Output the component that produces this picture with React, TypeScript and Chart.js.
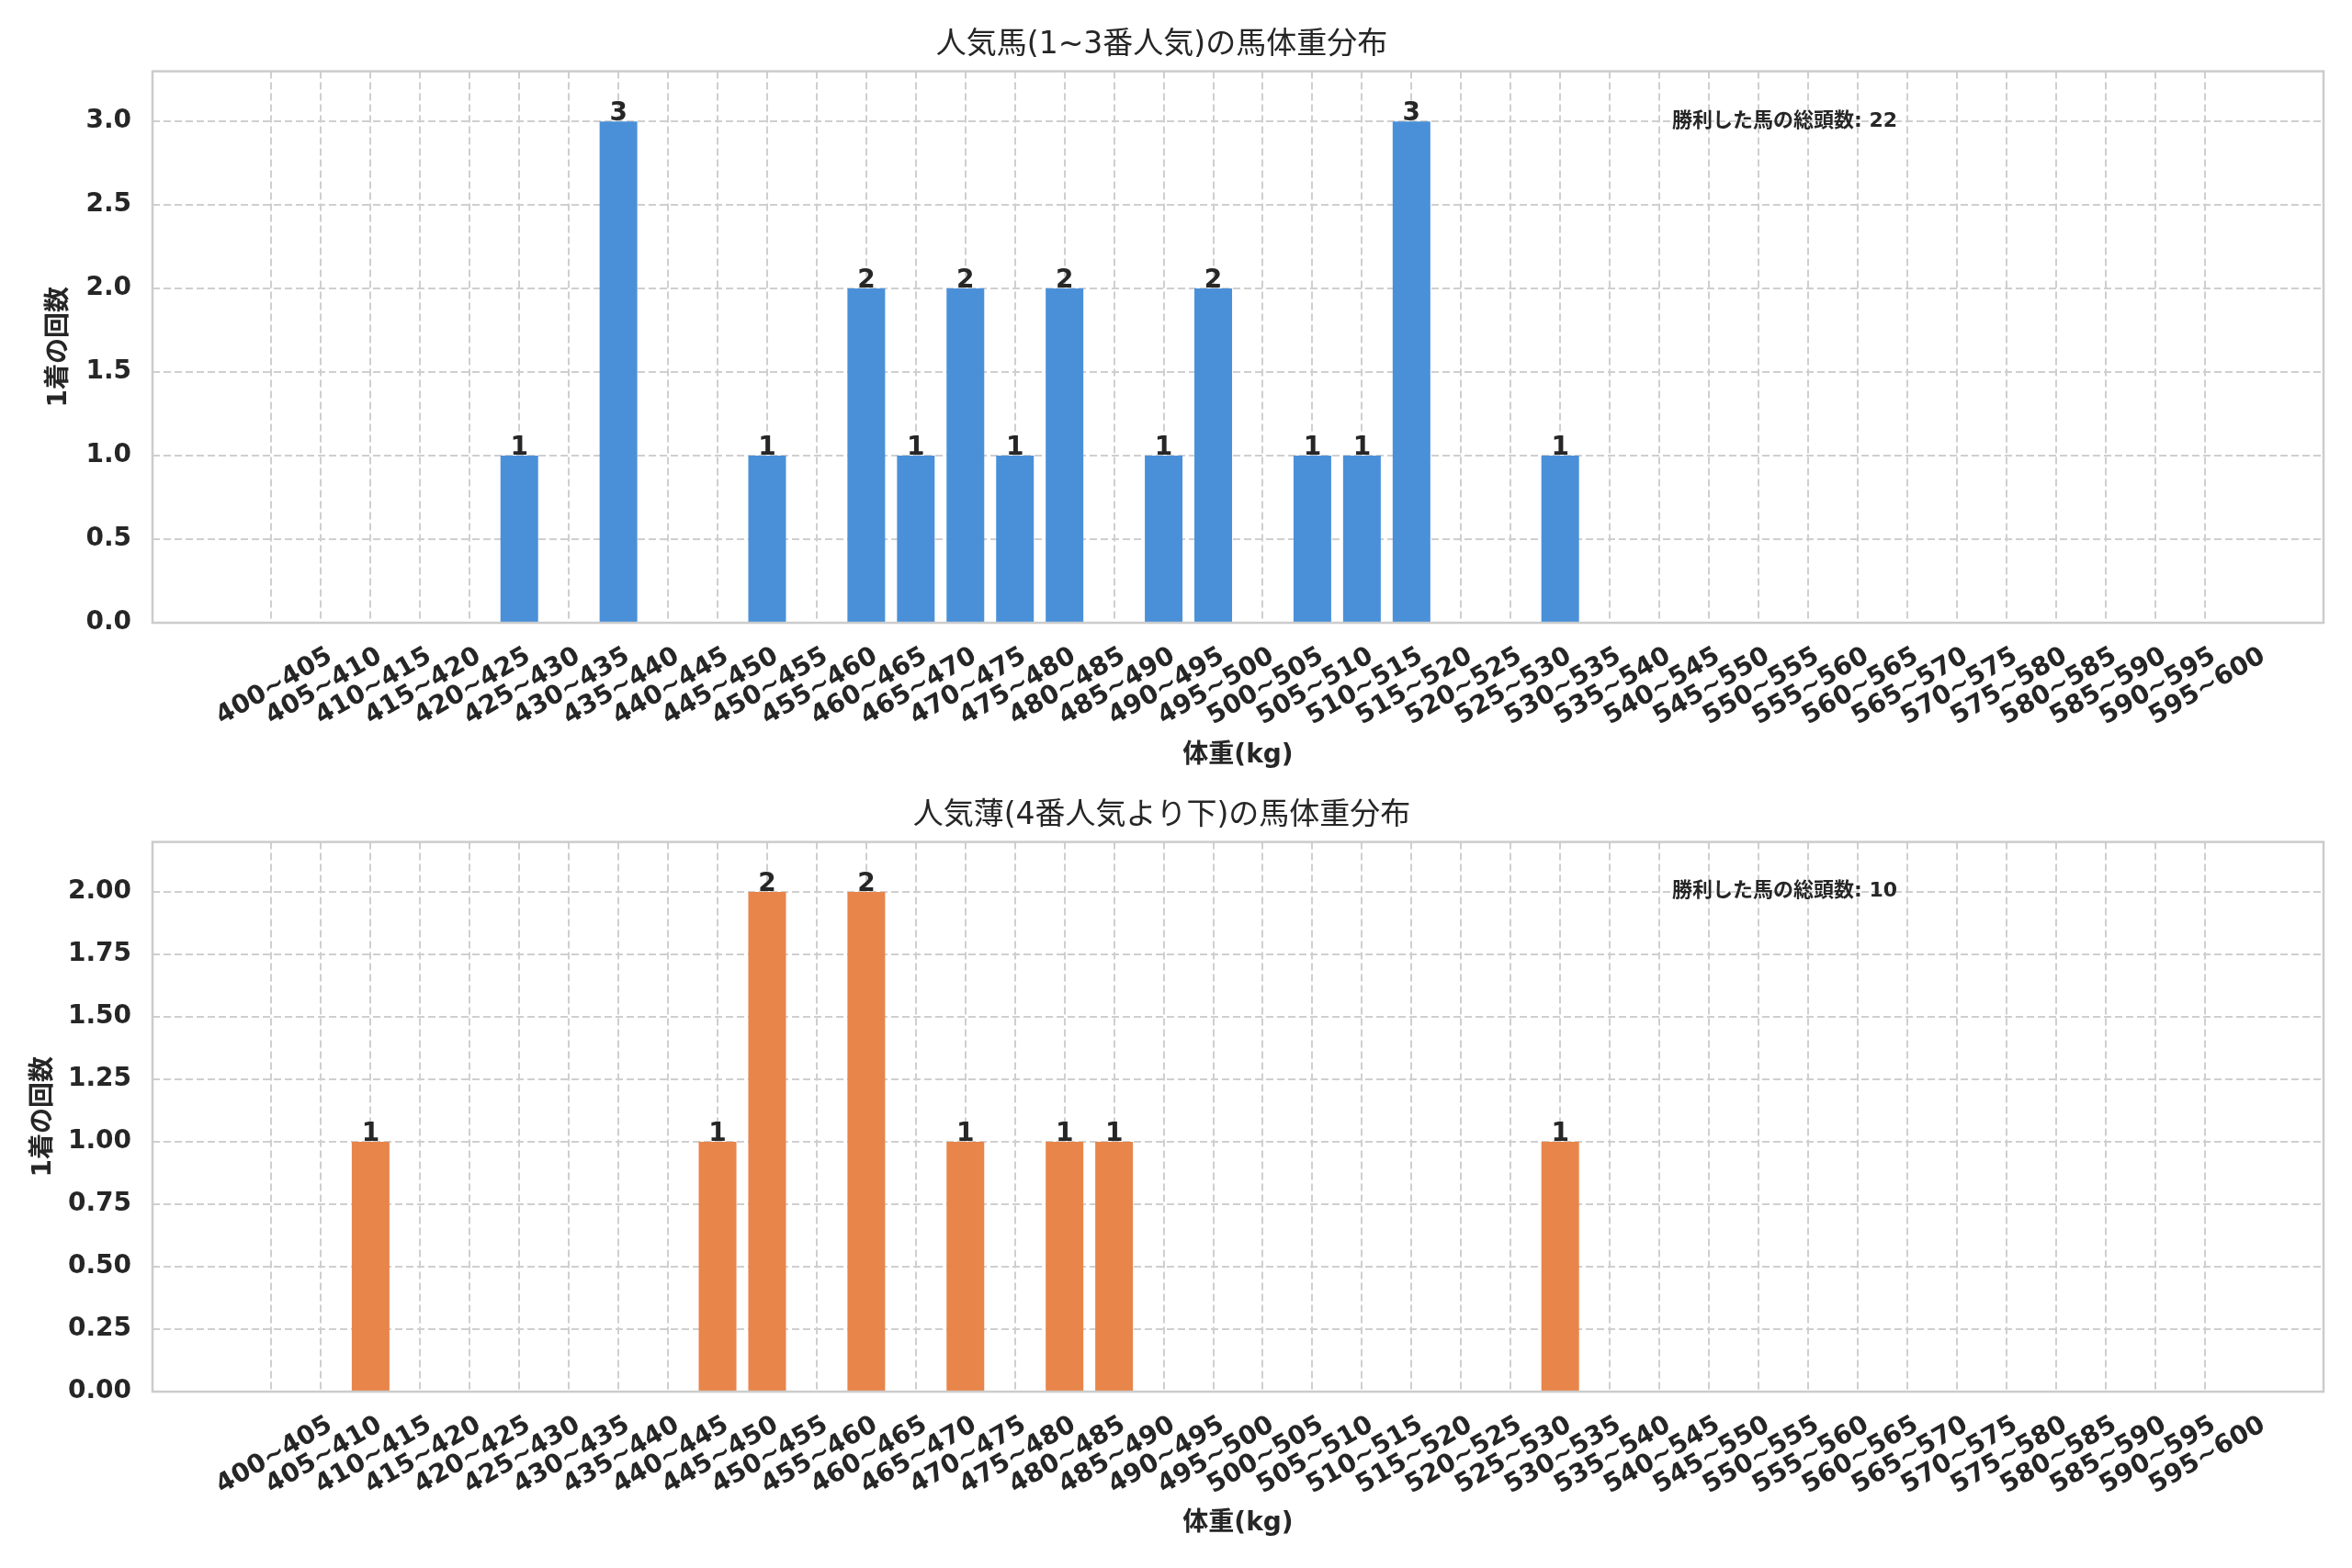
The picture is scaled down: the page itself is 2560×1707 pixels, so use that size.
import React, { useEffect, useRef } from "react";
import { Chart, registerables } from "chart.js";

Chart.register(...registerables);

const FONT = '"DejaVu Sans", "Noto Sans CJK JP", sans-serif';
const TEXT = "#262626";
const GRID = "#cfcfcf";

// 馬体重の区分 (5kg刻み)
const weightBins = [
  "400~405", "405~410", "410~415", "415~420", "420~425", "425~430", "430~435", "435~440",
  "440~445", "445~450", "450~455", "455~460", "460~465", "465~470", "470~475", "475~480",
  "480~485", "485~490", "490~495", "495~500", "500~505", "505~510", "510~515", "515~520",
  "520~525", "525~530", "530~535", "535~540", "540~545", "545~550", "550~555", "555~560",
  "560~565", "565~570", "570~575", "575~580", "580~585", "585~590", "590~595", "595~600",
];

// 1~3番人気の1着回数
const favWins = [
  0, 0, 0, 0, 0, 1, 0, 3, 0, 0, 1, 0, 2, 1, 2, 1, 2, 0, 1, 2,
  0, 1, 1, 3, 0, 0, 1, 0, 0, 0, 0, 0, 0, 0, 0, 0, 0, 0, 0, 0,
];

// 4番人気以下の1着回数
const longshotWins = [
  0, 0, 1, 0, 0, 0, 0, 0, 0, 1, 2, 0, 2, 0, 1, 0, 1, 1, 0, 0,
  0, 0, 0, 0, 0, 0, 1, 0, 0, 0, 0, 0, 0, 0, 0, 0, 0, 0, 0, 0,
];

const favTicks = [0, 0.5, 1.0, 1.5, 2.0, 2.5, 3.0];
const longshotTicks = [0, 0.25, 0.5, 0.75, 1.0, 1.25, 1.5, 1.75, 2.0];

type PanelProps = {
  title: string;
  counts: number[];
  color: string;
  yTicks: number[];
  decimals: number;
  top: number;
  height: number;
  plotBottom: number;
  yTitlePad: number;
  xTitlePad: number;
};

const Panel = ({ title, counts, color, yTicks, decimals, top, height, plotBottom, yTitlePad, xTitlePad }: PanelProps) => {
  const canvasRef = useRef<HTMLCanvasElement>(null);

  useEffect(() => {
    const total = counts.reduce((a, b) => a + b, 0);
    const yMax = Math.max(...counts) * 1.1;

    const extras = {
      id: "extras",
      afterDatasetsDraw(chart: any) {
        const { ctx, chartArea } = chart;
        ctx.save();
        // spines
        ctx.strokeStyle = "#cccccc";
        ctx.lineWidth = 2.5;
        ctx.strokeRect(chartArea.left, chartArea.top, chartArea.right - chartArea.left, chartArea.bottom - chartArea.top);
        // value labels
        ctx.fillStyle = TEXT;
        ctx.font = `bold 28px ${FONT}`;
        ctx.textAlign = "center";
        ctx.textBaseline = "alphabetic";
        chart.getDatasetMeta(0).data.forEach((el: any, i: number) => {
          if (counts[i] > 0) ctx.fillText(String(counts[i]), el.x, el.y - 1);
        });
        // total note
        ctx.textAlign = "left";
        ctx.font = `bold 22px ${FONT}`;
        const w = chartArea.right - chartArea.left;
        const h = chartArea.bottom - chartArea.top;
        ctx.fillText(`勝利した馬の総頭数: ${total}`, chartArea.left + 0.7 * w, chartArea.top + 0.1 * h);
        ctx.restore();
      },
    };

    const chart = new Chart(canvasRef.current as HTMLCanvasElement, {
      type: "bar",
      data: {
        datasets: [
          {
            data: counts.map((v, i) => ({ x: i, y: v })),
            backgroundColor: color,
            borderWidth: 0,
            barPercentage: 0.76,
            categoryPercentage: 1,
          },
        ],
      },
      options: {
        responsive: false,
        animation: false,
        layout: { padding: { left: 0, right: 31, top: 0, bottom: 0 } },
        plugins: {
          legend: { display: false },
          tooltip: { enabled: false },
          title: {
            display: true,
            text: title,
            color: TEXT,
            font: { family: FONT, size: 33, weight: "normal" },
            padding: { top: 30, bottom: 8 },
          },
        },
        scales: {
          x: {
            type: "linear",
            offset: false,
            min: -2.4,
            max: 41.4,
            afterBuildTicks: (axis: any) => {
              axis.ticks = weightBins.map((_, i) => ({ value: i }));
            },
            afterFit: (scale: any) => {
              scale.height = height - plotBottom;
            },
            grid: { color: GRID, lineWidth: 2, drawTicks: false, offset: false },
            border: { display: false, dash: [8, 4] },
            ticks: {
              autoSkip: false,
              maxRotation: 30,
              minRotation: 30,
              padding: 20,
              labelOffset: 64,
              color: TEXT,
              font: { family: FONT, size: 28, weight: "bold" },
              callback: (v: any) => weightBins[v as number] ?? "",
            },
            title: {
              display: true,
              text: "体重(kg)",
              color: TEXT,
              font: { family: FONT, size: 28, weight: "bold" },
              padding: { top: 0, bottom: xTitlePad },
            },
          },
          y: {
            min: 0,
            max: yMax,
            afterBuildTicks: (axis: any) => {
              axis.ticks = yTicks.map((v) => ({ value: v }));
            },
            afterFit: (scale: any) => {
              scale.width = 166;
            },
            grid: { color: GRID, lineWidth: 2, drawTicks: false },
            border: { display: false, dash: [8, 4] },
            ticks: {
              padding: 23,
              color: TEXT,
              font: { family: FONT, size: 28, weight: "bold" },
              callback: (v: any) => Number(v).toFixed(decimals),
            },
            title: {
              display: true,
              text: "1着の回数",
              color: TEXT,
              font: { family: FONT, size: 28, weight: "bold" },
              padding: { top: yTitlePad, bottom: 0 },
            },
          },
        },
      },
      plugins: [extras],
    } as any);

    return () => chart.destroy();
  }, []);

  return (
    <canvas
      ref={canvasRef}
      width={2560}
      height={height}
      style={{ position: "absolute", left: 0, top, width: 2560, height }}
    />
  );
};

export default function App() {
  useEffect(() => {
    document.body.style.margin = "0";
    document.body.style.background = "#ffffff";
  }, []);

  return (
    <div style={{ position: "relative", width: 2560, height: 1707, overflow: "hidden", background: "#fff" }}>
      <Panel
        title="人気馬(1~3番人気)の馬体重分布"
        counts={favWins}
        color="#4a90d9"
        yTicks={favTicks}
        decimals={1}
        top={0}
        height={845}
        plotBottom={678}
        yTitlePad={48}
        xTitlePad={5}
      />
      <Panel
        title="人気薄(4番人気より下)の馬体重分布"
        counts={longshotWins}
        color="#e8854a"
        yTicks={longshotTicks}
        decimals={2}
        top={839}
        height={868}
        plotBottom={676}
        yTitlePad={31}
        xTitlePad={31}
      />
    </div>
  );
}
